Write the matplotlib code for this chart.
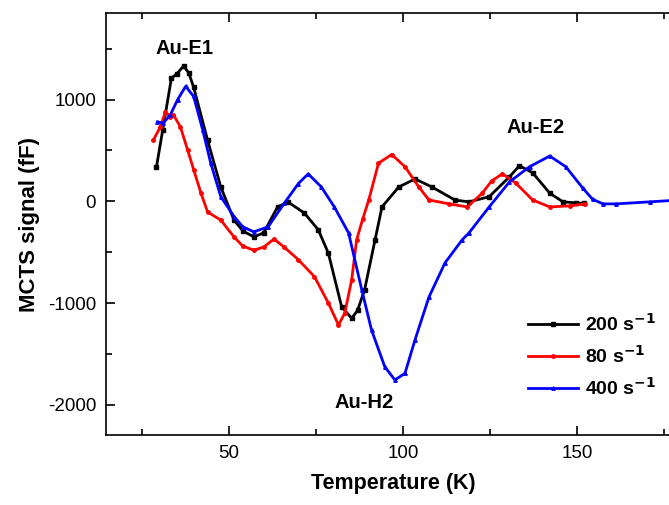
import numpy as np
import matplotlib.pyplot as plt
from matplotlib.ticker import MultipleLocator

plt.rcParams['font.family'] = ['Liberation Sans', 'DejaVu Sans']
plt.rcParams['axes.unicode_minus'] = False

# 200 s^-1 (black)
t_200 = [29.2, 31.0, 33.5, 35.0, 37.0, 38.5, 39.9, 43.9, 47.7, 51.5, 54.0, 57.2, 60.0, 64.0,
         67.0, 71.7, 75.7, 78.6, 82.4, 85.3, 87.0, 89.0, 92.0, 94.0, 98.8, 103.5, 108.4,
         115.0, 119.0, 124.8, 130.6, 133.5, 137.3, 142.2, 146.0, 149.7, 152.0]
s_200 = [336, 700, 1210, 1250, 1330, 1260, 1120, 600, 140, -185, -290, -350, -310, -55,
         -7, -115, -280, -510, -1035, -1150, -1070, -870, -380, -55, 140, 220, 140,
         12, -5, 45, 240, 350, 280, 80, -5, -15, -20]

# 80 s^-1 (red)
t_80 = [28.3, 30.3, 31.8, 33.2, 34.1, 36.1, 38.2, 39.9, 42.0, 43.9, 47.7, 51.5, 54.0, 57.2,
        60.0, 63.0, 65.9, 70.0, 74.6, 78.6, 81.5, 83.3, 85.3, 86.7, 88.5, 90.2, 93.0, 96.8,
        100.6, 104.6, 107.5, 113.3, 118.5, 122.8, 125.5, 128.6, 132.4, 137.3, 142.2, 148.0, 152.3]
s_80 = [600, 730, 880, 830, 850, 730, 500, 310, 80, -105, -185, -350, -440, -480,
        -450, -370, -450, -575, -740, -1000, -1215, -1100, -770, -380, -170, 13, 375, 460,
        340, 140, 13, -25, -55, 80, 200, 270, 180, 13, -55, -45, -25]

# 400 s^-1 (blue)
t_400 = [29.5, 31.2, 33.2, 35.3, 37.6, 39.9, 42.5, 44.8, 47.7, 51.5, 54.0, 57.2, 61.3, 65.9,
         70.0, 72.8, 76.6, 80.3, 84.4, 88.2, 91.0, 94.8, 97.7, 100.6, 103.5, 107.5,
         112.1, 117.0, 119.0, 124.8, 130.6, 136.4, 142.2, 146.8, 151.7, 154.5, 157.5, 161.3,
         171.0, 178.0]
s_400 = [780, 770, 850, 1000, 1130, 1030, 700, 375, 45, -150, -250, -300, -250, -20,
         175, 270, 140, -55, -310, -870, -1265, -1625, -1755, -1690, -1360, -940,
         -605, -380, -310, -55, 190, 340, 445, 340, 130, 20, -25, -25,
         -5, 10]

fig = plt.figure(figsize=(6.69, 5.05), dpi=100)
ax = fig.add_axes([0.1584, 0.1386, 0.86, 0.8356])

ax.plot(t_200, s_200, color='black', marker='s', markersize=2.5, linewidth=2,
        label=r'200 s$^{\mathbf{-1}}$')
ax.plot(t_80, s_80, color='red', marker='o', markersize=2.5, linewidth=2,
        label=r'80 s$^{\mathbf{-1}}$')
ax.plot(t_400, s_400, color='blue', marker='^', markersize=2.5, linewidth=2,
        label=r'400 s$^{\mathbf{-1}}$')

ax.set_xlim(14.7, 180)
ax.set_ylim(-2296, 1850)
ax.xaxis.set_major_locator(MultipleLocator(50))
ax.xaxis.set_minor_locator(MultipleLocator(25))
ax.yaxis.set_major_locator(MultipleLocator(1000))
ax.yaxis.set_minor_locator(MultipleLocator(500))
ax.tick_params(which='both', direction='in', top=True, right=False, labelsize=13.5, width=1.2)
ax.tick_params(which='major', length=6.5, pad=7)
ax.tick_params(which='minor', length=4)
for sp in ax.spines.values():
    sp.set_linewidth(1.2)
ax.spines['right'].set_visible(False)

ax.set_xlabel('Temperature (K)', fontsize=15.5, fontweight='bold', labelpad=8)
ax.set_ylabel('MCTS signal (fF)', fontsize=16, fontweight='bold', labelpad=6)

ax.text(37.4, 1500, 'Au-E1', fontsize=14.5, fontweight='bold', ha='center', va='center')
ax.text(138.2, 725, 'Au-E2', fontsize=14.5, fontweight='bold', ha='center', va='center')
ax.text(89.0, -1980, 'Au-H2', fontsize=14.5, fontweight='bold', ha='center', va='center')

leg = ax.legend(loc='upper left', bbox_to_anchor=(0.703, 0.33), frameon=False,
                prop={'size': 14, 'weight': 'bold'}, handlelength=2.6, labelspacing=0.5,
                handletextpad=0.35)

plt.savefig('out.png', dpi=100)
